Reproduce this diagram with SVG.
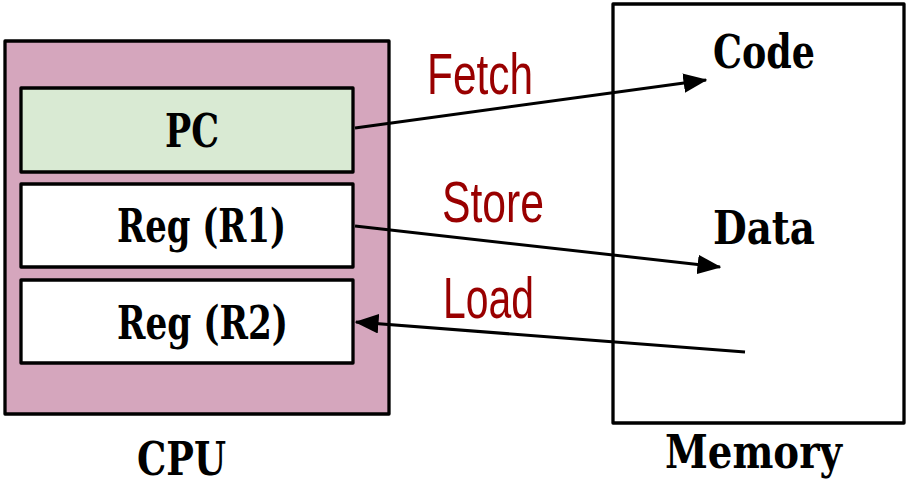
<svg xmlns="http://www.w3.org/2000/svg" width="906" height="487" viewBox="0 0 906 487">
<defs>
<marker id="ah" markerWidth="8" markerHeight="6.5" refX="7.5" refY="3.25" orient="auto" markerUnits="strokeWidth">
<path d="M0,0 L8,3.25 L0,6.5 Z" fill="#000"/>
</marker>
<style>
.box{stroke:#000;stroke-width:3.3;stroke-linejoin:round}
.lbl{font-family:"DejaVu Serif","Liberation Serif",serif;font-weight:bold;font-size:46px;fill:#000}
.red{font-family:"Liberation Sans","DejaVu Sans",sans-serif;font-size:57px;fill:#990000}
.conn{stroke:#000;stroke-width:3;fill:none}
</style>
</defs>
<rect width="906" height="487" fill="#fff"/>
<g id="cpu">
<rect class="box" x="5" y="41" width="384" height="373" fill="#d5a6bd"/>
<text class="lbl" x="137" y="475" font-size="44" textLength="89" lengthAdjust="spacingAndGlyphs">CPU</text>
</g>
<g id="pc">
<rect class="box" x="21" y="88" width="332" height="84" fill="#d9ead3"/>
<text class="lbl" x="165" y="147" textLength="54" lengthAdjust="spacingAndGlyphs">PC</text>
</g>
<g id="r1">
<rect class="box" x="21" y="184" width="332" height="83" fill="#fff"/>
<text class="lbl" x="117" y="242" textLength="169" lengthAdjust="spacingAndGlyphs">Reg (R1)</text>
</g>
<g id="r2">
<rect class="box" x="21" y="280" width="332" height="83" fill="#fff"/>
<text class="lbl" x="117" y="339" textLength="171" lengthAdjust="spacingAndGlyphs">Reg (R2)</text>
</g>
<g id="memory">
<rect class="box" x="613" y="4" width="291" height="419" fill="#fff"/>
<text class="lbl" x="713" y="68" textLength="102" lengthAdjust="spacingAndGlyphs">Code</text>
<text class="lbl" x="713" y="244" textLength="102" lengthAdjust="spacingAndGlyphs">Data</text>
<text class="lbl" x="665" y="468" textLength="177" lengthAdjust="spacingAndGlyphs">Memory</text>
</g>
<g id="connectors">
<line class="conn" x1="355" y1="128" x2="706" y2="80" marker-end="url(#ah)"/>
<line class="conn" x1="355" y1="226" x2="720" y2="267" marker-end="url(#ah)"/>
<line class="conn" x1="745" y1="352" x2="356" y2="322" marker-end="url(#ah)"/>
<text class="red" x="427" y="94" textLength="106" lengthAdjust="spacingAndGlyphs">Fetch</text>
<text class="red" x="442" y="222" textLength="102" lengthAdjust="spacingAndGlyphs">Store</text>
<text class="red" x="443" y="318" textLength="91" lengthAdjust="spacingAndGlyphs">Load</text>
</g>
</svg>
